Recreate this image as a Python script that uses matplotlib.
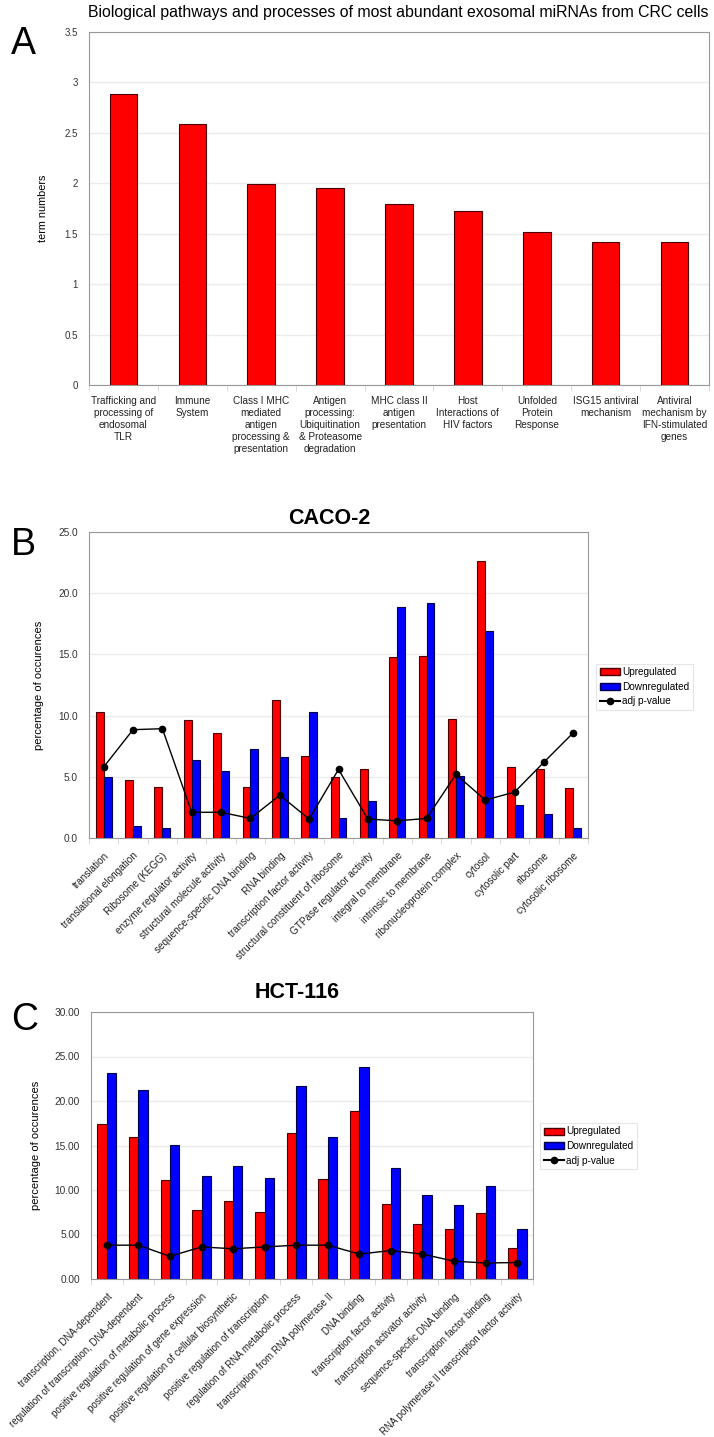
import matplotlib
matplotlib.use('Agg')
import matplotlib.pyplot as plt
import numpy as np
from matplotlib.patches import Patch
from matplotlib.lines import Line2D

ARIAL = ['Liberation Sans', 'DejaVu Sans']

# Panel A
pathways = ["Trafficking and\nprocessing of\nendosomal\nTLR", "Immune\nSystem",
            "Class I MHC\nmediated\nantigen\nprocessing &\npresentation",
            "Antigen\nprocessing:\nUbiquitination\n& Proteasome\ndegradation",
            "MHC class II\nantigen\npresentation", "Host\nInteractions of\nHIV factors",
            "Unfolded\nProtein\nResponse", "ISG15 antiviral\nmechanism",
            "Antiviral\nmechanism by\nIFN-stimulated\ngenes"]
term_numbers = [2.89, 2.59, 1.99, 1.95, 1.79, 1.73, 1.52, 1.42, 1.42]

# Panel B - CACO-2
caco_terms = ["translation", "translational elongation", "Ribosome (KEGG)",
              "enzyme regulator activity", "structural molecule activity",
              "sequence-specific DNA binding", "RNA binding",
              "transcription factor activity", "structural constituent of ribosome",
              "GTPase regulator activity", "integral to membrane",
              "intrinsic to membrane", "ribonucleoprotein complex", "cytosol",
              "cytosolic part", "ribosome", "cytosolic ribosome"]
caco_up = [10.3, 4.7, 4.2, 9.6, 8.6, 4.2, 11.3, 6.7, 5.0, 5.6, 14.8, 14.9, 9.7, 22.6, 5.8, 5.6, 4.1]
caco_down = [5.0, 0.95, 0.82, 6.4, 5.5, 7.3, 6.6, 10.3, 1.6, 3.05, 18.9, 19.2, 5.1, 16.9, 2.7, 1.95, 0.82]
caco_p = [5.8, 8.85, 8.93, 2.1, 2.1, 1.6, 3.5, 1.55, 5.6, 1.55, 1.4, 1.6, 5.2, 3.1, 3.75, 6.2, 8.6]

# Panel C - HCT-116
hct_terms = ["transcription, DNA-dependent", "regulation of transcription, DNA-dependent",
             "positive regulation of metabolic process",
             "positive regulation of gene expression",
             "positive regulation of cellular biosynthetic",
             "positive regulation of transcription",
             "regulation of RNA metabolic process",
             "transcription from RNA polymerase II", "DNA binding",
             "transcription factor activity", "transcription activator activity",
             "sequence-specific DNA binding", "transcription factor binding",
             "RNA polymerase II transcription factor activity"]
hct_up = [17.4, 16.0, 11.1, 7.8, 8.8, 7.5, 16.4, 11.2, 18.9, 8.4, 6.2, 5.6, 7.4, 3.45]
hct_down = [23.1, 21.2, 15.1, 11.6, 12.7, 11.3, 21.7, 15.9, 23.8, 12.5, 9.45, 8.3, 10.4, 5.6]
hct_p = [3.8, 3.8, 2.55, 3.6, 3.4, 3.6, 3.8, 3.8, 2.8, 3.2, 2.8, 2.0, 1.8, 1.85]

W, H = 714, 1437
fig = plt.figure(figsize=(W / 100, H / 100), dpi=100)


def box(x0, y0, x1, y1):
    # pixel box (top-left origin) -> figure fraction rect
    return [x0 / W, 1 - y1 / H, (x1 - x0) / W, (y1 - y0) / H]


def style_axes(ax, n):
    for s in ax.spines.values():
        s.set_color('#999999')
    ax.grid(axis='y', color='#ebebeb', linewidth=1)
    ax.set_axisbelow(True)
    ax.set_xlim(-0.5, n - 0.5)
    ax.set_xticks(np.arange(n))
    ax.set_xticks(np.arange(n + 1) - 0.5, minor=True)
    ax.tick_params(axis='x', which='major', length=0)
    ax.tick_params(axis='x', which='minor', length=4, color='#d4d4d4')
    ax.tick_params(axis='y', length=0, labelsize=7.3, labelcolor='#333333', pad=8)


# ---- A ----
fig.text(398 / W, 1 - 13 / H, "Biological pathways and processes of most abundant exosomal miRNAs from CRC cells",
         ha='center', va='center', fontsize=11.4, family=ARIAL)
fig.text(11 / W, 1 - 44 / H, "A", fontsize=27, ha='left', va='center', family=ARIAL)
axA = fig.add_axes(box(89, 32, 709, 385))
x = np.arange(len(term_numbers))
axA.bar(x, term_numbers, width=0.4, color='#ff0000', edgecolor='#4a0000', linewidth=0.8)
style_axes(axA, len(term_numbers))
axA.set_ylim(0, 3.5)
axA.set_yticks(np.arange(0, 3.51, 0.5))
axA.set_yticklabels(['0', '0.5', '1', '1.5', '2', '2.5', '3', '3.5'], family=ARIAL, fontsize=7)
axA.set_xticklabels(pathways, fontsize=7.2, family=ARIAL, va='top', linespacing=1.25, color='#222222')
axA.tick_params(axis='x', which='major', pad=8)
axA.set_ylabel("term numbers", fontsize=7.8, family=ARIAL, labelpad=12)


# ---- B and C ----
def grouped_panel(rect, terms, up, down, pval, ymax, step, fmt, title, letter,
                  title_xy, letter_y, legend_xy, label_size, w):
    ax = fig.add_axes(box(*rect))
    n = len(terms)
    x = np.arange(n)
    ax.bar(x - w / 2, up, width=w, color='#ff0000', edgecolor='#4a0000', linewidth=0.8)
    ax.bar(x + w / 2, down, width=w, color='#0000ff', edgecolor='#00004a', linewidth=0.8)
    ax.plot(x, pval, color='black', linewidth=1, marker='o', markersize=4.5)
    style_axes(ax, n)
    ax.set_ylim(0, ymax)
    ticks = np.arange(0, ymax + 0.01, step)
    ax.set_yticks(ticks)
    ax.set_yticklabels([fmt % t for t in ticks], family=ARIAL)
    ax.set_xticklabels(terms, rotation=45, ha='right', rotation_mode='anchor',
                       fontsize=label_size, family=ARIAL, color='#222222')
    ax.tick_params(axis='x', which='major', pad=9)
    ax.set_ylabel("percentage of occurences", fontsize=8, family=ARIAL, labelpad=10)
    fig.text(title_xy[0] / W, 1 - title_xy[1] / H, title, ha='center', va='center',
             fontsize=15.5, fontweight='bold', family=ARIAL)
    fig.text(11 / W, 1 - letter_y / H, letter, fontsize=27, ha='left', va='center', family=ARIAL)

    handles = [Patch(facecolor='#ff0000', edgecolor='#4a0000'),
               Patch(facecolor='#0000ff', edgecolor='#00004a'),
               Line2D([], [], color='black', marker='o', markersize=4.5)]
    leg = fig.legend(handles, ['Upregulated', 'Downregulated', 'adj p-value'],
                     loc='upper left', bbox_to_anchor=(legend_xy[0] / W, 1 - legend_xy[1] / H),
                     frameon=True, fancybox=False, borderpad=0.35,
                     handlelength=2.0, handleheight=0.7, handletextpad=0.3, labelspacing=0.45,
                     borderaxespad=0, prop={'family': ARIAL, 'size': 7.2})
    leg.get_frame().set_edgecolor('#e0e0e0')
    leg.get_frame().set_linewidth(0.8)
    return ax


grouped_panel((89, 532, 588, 838), caco_terms, caco_up, caco_down, caco_p,
              25, 5, '%.1f', 'CACO-2', 'B', (329, 519), 545, (596, 664), 7.2, 0.27)
grouped_panel((91, 1012, 533, 1279), hct_terms, hct_up, hct_down, hct_p,
              30, 5, '%.2f', 'HCT-116', 'C', (297, 992), 1020, (540, 1123), 7.0, 0.295)

fig.savefig('out.png', dpi=100)
